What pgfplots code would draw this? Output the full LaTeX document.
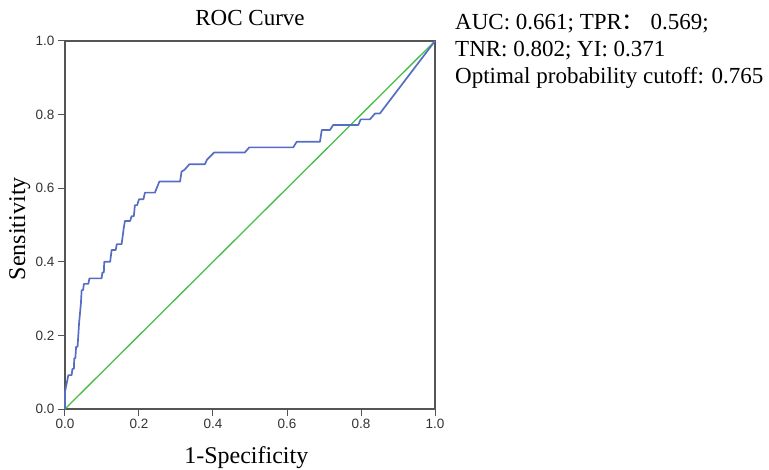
\documentclass[border=0pt]{standalone}
\usepackage{fontspec}
\setmainfont{Liberation Serif}
\newfontfamily\arial{Liberation Sans}
\newfontfamily\cjk{Noto Sans CJK SC}
\usepackage{pgfplots}
\pgfplotsset{compat=1.18}

\definecolor{rocblue}{RGB}{85,110,195}
\definecolor{refgreen}{RGB}{70,190,70}
\definecolor{axgray}{RGB}{85,85,85}

\begin{document}
\begin{tikzpicture}
\path[use as bounding box] (-65pt,-60pt) rectangle (704pt,409pt);
\begin{axis}[
    at={(0,0)}, anchor=south west,
    scale only axis,
    width=370pt, height=368pt,
    xmin=0, xmax=1, ymin=0, ymax=1,
    xtick={0,0.2,0.4,0.6,0.8,1},
    ytick={0,0.2,0.4,0.6,0.8,1},
    tick pos=left,
    tick align=outside,
    major tick length=7pt,
    tick style={color=axgray, line width=1pt},
    axis line style={color=axgray, line width=1.3pt},
    /pgf/number format/.cd, fixed, fixed zerofill, precision=1, assume math mode=true,
    /pgfplots/.cd,
    ticklabel style={font=\arial\fontsize{13.5}{15}\selectfont, text=black!80},
    title={ROC Curve},
    title style={font=\fontsize{23}{26}\selectfont, at={(axis description cs:0.5,1.0245)}, anchor=base},
    xlabel={1-Specificity},
    xlabel style={font=\fontsize{24}{28}\selectfont, at={(axis description cs:0.49,-0.147)}, anchor=base},
    ylabel={Sensitivity},
    ylabel style={font=\fontsize{24}{28}\selectfont, at={(axis description cs:-0.108,0.49)}, anchor=base},
    clip=false,
]
% reference line
\addplot[refgreen, line width=1.3pt] coordinates {(0,0) (1,1)};
% ROC curve
\addplot[rocblue, line width=1.7pt, line join=round] coordinates {
    (0,0) (0,0.047) (0.009,0.092) (0.018,0.092) (0.020,0.109) (0.024,0.109)
    (0.025,0.138) (0.028,0.138) (0.030,0.169) (0.034,0.169) (0.038,0.233)
    (0.041,0.265) (0.043,0.287) (0.045,0.323) (0.049,0.323) (0.051,0.340)
    (0.063,0.340) (0.066,0.355) (0.099,0.355) (0.101,0.371) (0.105,0.371)
    (0.106,0.400) (0.122,0.400) (0.126,0.432) (0.137,0.432) (0.140,0.448)
    (0.153,0.448) (0.159,0.493) (0.162,0.511) (0.176,0.511) (0.180,0.524)
    (0.186,0.524) (0.189,0.554) (0.195,0.554) (0.200,0.570) (0.212,0.570)
    (0.216,0.588) (0.243,0.588) (0.255,0.618) (0.311,0.618) (0.315,0.645)
    (0.323,0.650) (0.336,0.665) (0.378,0.665) (0.384,0.678) (0.403,0.697)
    (0.486,0.697) (0.498,0.711) (0.617,0.711) (0.626,0.726) (0.689,0.726)
    (0.694,0.758) (0.716,0.758) (0.725,0.772) (0.793,0.772) (0.799,0.787)
    (0.824,0.787) (0.838,0.803) (0.851,0.803) (1,1)
};
\end{axis}
\begin{scope}[every node/.style={anchor=base west, inner sep=0pt, font=\fontsize{23}{27}\selectfont}]
\node at (390pt,379pt) {AUC: 0.661; TPR{\cjk ：} 0.569;};
\node at (390pt,352pt) {TNR: 0.802; YI: 0.371};
\node at (390pt,325pt) {Optimal probability cutoff: 0.765};
\end{scope}
\end{tikzpicture}
\end{document}
